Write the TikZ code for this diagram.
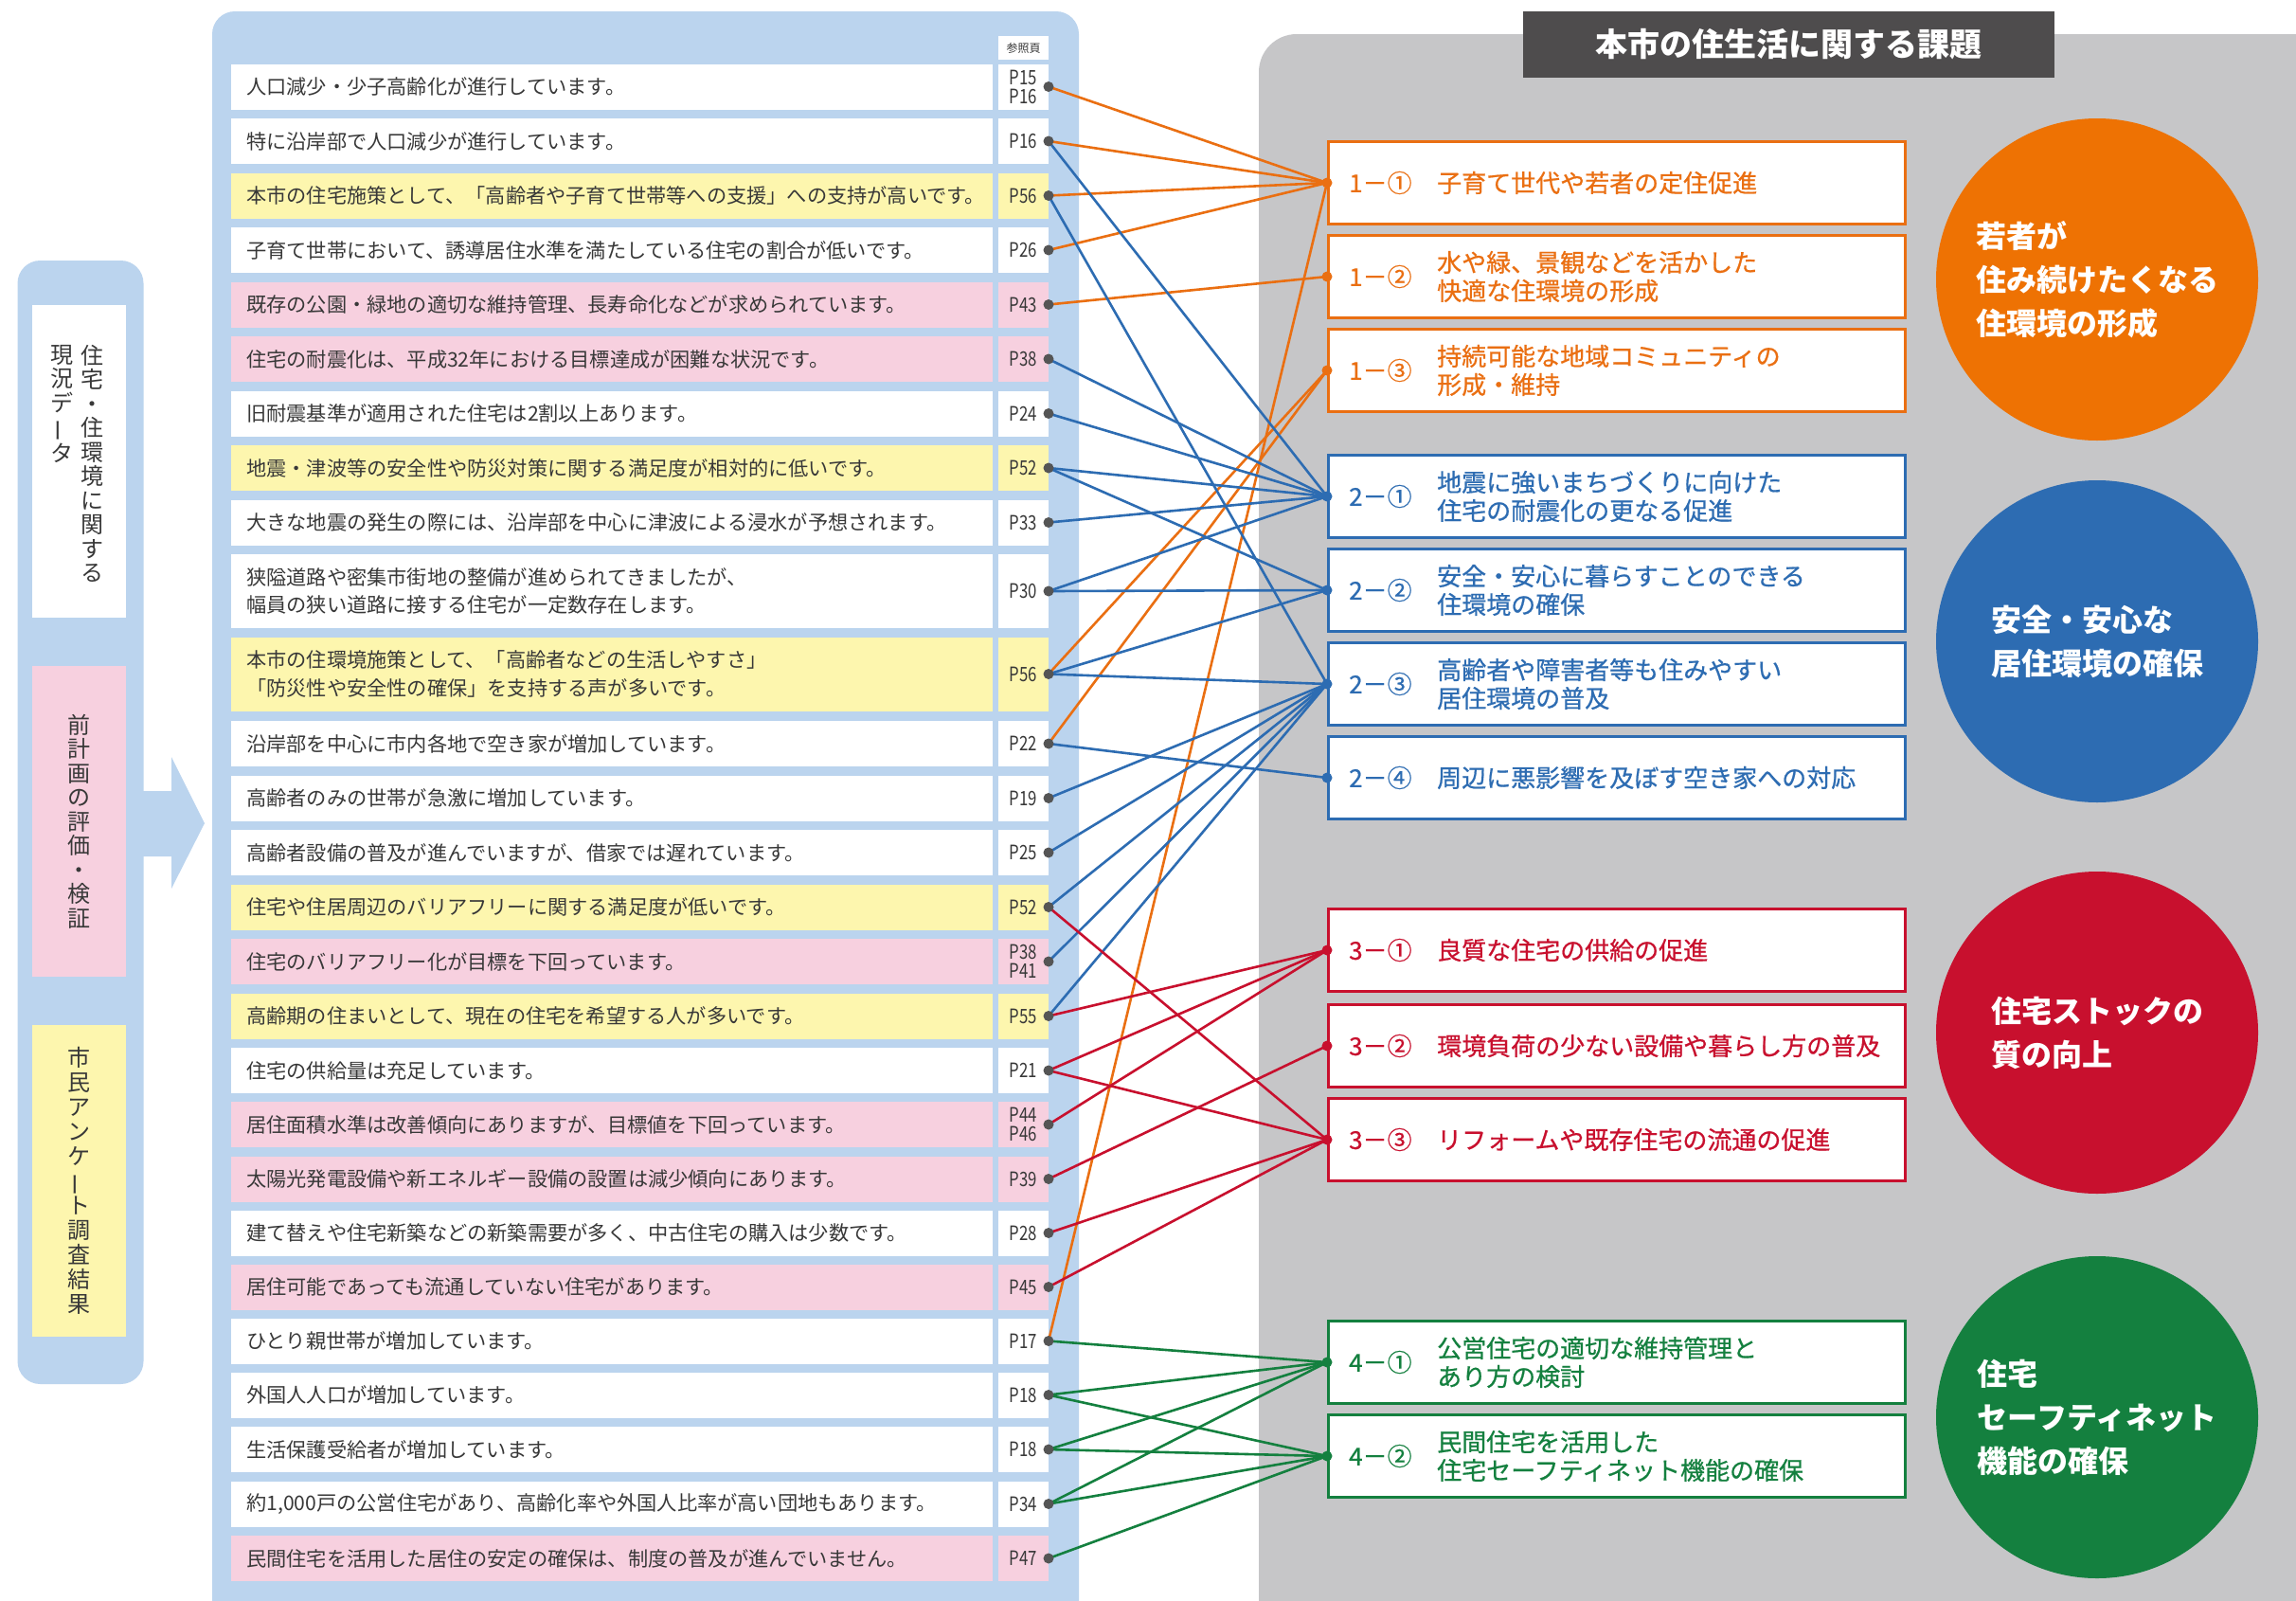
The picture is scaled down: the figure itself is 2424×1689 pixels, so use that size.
\documentclass[tikz,border=0pt]{standalone}
\usepackage{fontspec}
\usepackage{graphicx}
\setmainfont{Noto Sans CJK JP}
\newfontfamily\pgfont[FakeStretch=0.8]{Noto Sans CJK JP}
\newfontfamily\medfont[FakeBold=0.7]{Noto Sans CJK JP}
\definecolor{panelblue}{HTML}{BBD4EE}
\definecolor{rowyellow}{HTML}{FDF6AE}
\definecolor{rowpink}{HTML}{F7D0DF}
\definecolor{graybg}{HTML}{C6C6C8}
\definecolor{titlegray}{HTML}{4E4C4D}
\definecolor{corange}{HTML}{EA6F12}
\definecolor{cblue}{HTML}{2D6CB2}
\definecolor{cred}{HTML}{C8102E}
\definecolor{cgreen}{HTML}{14803F}
\definecolor{circorange}{HTML}{EE7203}
\definecolor{txt}{HTML}{383838}
\definecolor{dotgray}{HTML}{555555}
\newcommand\fsz[2]{\fontsize{#1}{#2}\selectfont}
\newcommand\vbar{\rotatebox[origin=c]{90}{ー}}
\tikzset{
  rowbox/.style={anchor=west, text width=772pt, inner xsep=16pt, inner ysep=0pt, align=left, font=\fsz{21.2}{29.5}, text=txt},
  pgbox/.style={anchor=east, minimum width=53pt, inner sep=0pt, align=center, font=\pgfont\fsz{21}{20}, text=txt},
  sdot/.style={circle, fill=dotgray, minimum size=11pt, inner sep=0pt},
  issuebox/.style={anchor=west, minimum width=609pt, minimum height=87pt, fill=white, line width=3pt, inner sep=0pt},
  issuelbl/.style={anchor=west, inner sep=0pt, font=\medfont\fsz{26}{30}},
  issuetxt/.style={anchor=west, inner sep=0pt, align=left, font=\medfont\fsz{26}{30}},
  bigcirc/.style={circle, minimum size=340pt, inner sep=0pt, text=white, align=left, font=\bfseries\fsz{32}{46}},
  vlbl/.style={inner sep=0pt, align=center, font=\fsz{24}{25.5}, text=txt},
  lo/.style={draw=corange, line width=2.6pt},
  lb/.style={draw=cblue, line width=2.6pt},
  lr/.style={draw=cred, line width=2.6pt},
  lg/.style={draw=cgreen, line width=2.6pt},
}
\newcommand\mkrow[6]{%
  \node[rowbox, minimum height=#3, fill=#4] (r#1) at (244,#2) {#5};%
  \node[pgbox, minimum height=#3, fill=#4] (p#1) at (1107,#2) {#6};%
  \coordinate (d#1) at (1107,#2);%
}
\newcommand\mkissue[5]{%
  \node[issuebox, draw=#3] (b#1) at (1401,#2) {};%
  \node[issuelbl, text=#3] (bl#1) at (1424,#2) {#4};%
  \node[issuetxt, text=#3] (bt#1) at (1517,#2) {#5};%
  \coordinate (t#1) at (1401,#2);%
}
\begin{document}
\begin{tikzpicture}[x=1pt,y=-1pt]
\useasboundingbox (0,0) rectangle (2424,1689);
\clip (0,0) rectangle (2424,1689);
\fill[white] (0,0) rectangle (2424,1689);
% right gray panel
\fill[graybg, rounded corners=40pt] (1329,36) rectangle (2500,1760);
\node[minimum width=561pt, minimum height=70pt, fill=titlegray, text=white, inner sep=0pt, font=\bfseries\fsz{34}{40}] (title) at (1888.5,47) {本市の住生活に関する課題};
% main light-blue panel
\fill[panelblue, rounded corners=24pt] (224,12) rectangle (1139,1720);
% left source panel
\fill[panelblue, rounded corners=24pt] (18.5,275) rectangle (151.5,1461);
\fill[panelblue] (151,835) -- (181,835) -- (181,799) -- (216,869) -- (181,938) -- (181,904) -- (151,904) -- cycle;
\fill[white] (34,322) rectangle (133,652);
\fill[rowpink] (34,703) rectangle (133,1031);
\fill[rowyellow] (34,1082) rectangle (133,1411);
\node[vlbl, anchor=north] (v1a) at (97,364) {住\\宅\\・\\住\\環\\境\\に\\関\\す\\る};
\node[vlbl, anchor=north] (v1b) at (65,364) {現\\況\\デ\\\vbar\\タ};
\node[vlbl] (v2) at (83.5,867) {前\\計\\画\\の\\評\\価\\・\\検\\証};
\node[vlbl, font=\fsz{24}{26}] (v3) at (83.5,1246) {市\\民\\ア\\ン\\ケ\\\vbar\\ト\\調\\査\\結\\果};
% header
\node[fill=white, minimum width=53pt, minimum height=25pt, inner sep=0pt, font=\fsz{12}{13}, text=txt] (hdr) at (1080.5,50.5) {参照頁};
% rows
\mkrow{1}{91.5}{48}{white}{人口減少・少子高齢化が進行しています。}{P15\\P16}
\mkrow{2}{149}{48}{white}{特に沿岸部で人口減少が進行しています。}{P16}
\mkrow{3}{206.5}{48}{rowyellow}{本市の住宅施策として、「高齢者や子育て世帯等への支援」への支持が高いです。}{P56}
\mkrow{4}{264}{48}{white}{子育て世帯において、誘導居住水準を満たしている住宅の割合が低いです。}{P26}
\mkrow{5}{321.5}{48}{rowpink}{既存の公園・緑地の適切な維持管理、長寿命化などが求められています。}{P43}
\mkrow{6}{379}{48}{rowpink}{住宅の耐震化は、平成32年における目標達成が困難な状況です。}{P38}
\mkrow{7}{436.5}{48}{white}{旧耐震基準が適用された住宅は2割以上あります。}{P24}
\mkrow{8}{494}{48}{rowyellow}{地震・津波等の安全性や防災対策に関する満足度が相対的に低いです。}{P52}
\mkrow{9}{551.5}{48}{white}{大きな地震の発生の際には、沿岸部を中心に津波による浸水が予想されます。}{P33}
\mkrow{10}{624}{78}{white}{狭隘道路や密集市街地の整備が進められてきましたが、\\幅員の狭い道路に接する住宅が一定数存在します。}{P30}
\mkrow{11}{711.5}{78}{rowyellow}{本市の住環境施策として、「高齢者などの生活しやすさ」\\「防災性や安全性の確保」を支持する声が多いです。}{P56}
\mkrow{12}{785}{48}{white}{沿岸部を中心に市内各地で空き家が増加しています。}{P22}
\mkrow{13}{842.5}{48}{white}{高齢者のみの世帯が急激に増加しています。}{P19}
\mkrow{14}{900}{48}{white}{高齢者設備の普及が進んでいますが、借家では遅れています。}{P25}
\mkrow{15}{957.5}{48}{rowyellow}{住宅や住居周辺のバリアフリーに関する満足度が低いです。}{P52}
\mkrow{16}{1015}{48}{rowpink}{住宅のバリアフリー化が目標を下回っています。}{P38\\P41}
\mkrow{17}{1072.5}{48}{rowyellow}{高齢期の住まいとして、現在の住宅を希望する人が多いです。}{P55}
\mkrow{18}{1130}{48}{white}{住宅の供給量は充足しています。}{P21}
\mkrow{19}{1187}{48}{rowpink}{居住面積水準は改善傾向にありますが、目標値を下回っています。}{P44\\P46}
\mkrow{20}{1244.5}{48}{rowpink}{太陽光発電設備や新エネルギー設備の設置は減少傾向にあります。}{P39}
\mkrow{21}{1301.5}{48}{white}{建て替えや住宅新築などの新築需要が多く、中古住宅の購入は少数です。}{P28}
\mkrow{22}{1358.5}{48}{rowpink}{居住可能であっても流通していない住宅があります。}{P45}
\mkrow{23}{1415.5}{48}{white}{ひとり親世帯が増加しています。}{P17}
\mkrow{24}{1472.5}{48}{white}{外国人人口が増加しています。}{P18}
\mkrow{25}{1530}{48}{white}{生活保護受給者が増加しています。}{P18}
\mkrow{26}{1587.5}{48}{white}{約1,000戸の公営住宅があり、高齢化率や外国人比率が高い団地もあります。}{P34}
\mkrow{27}{1645}{48}{rowpink}{民間住宅を活用した居住の安定の確保は、制度の普及が進んでいません。}{P47}
% issue boxes
\mkissue{11}{193}{corange}{1－①}{子育て世代や若者の定住促進}
\mkissue{12}{292}{corange}{1－②}{水や緑、景観などを活かした\\快適な住環境の形成}
\mkissue{13}{391}{corange}{1－③}{持続可能な地域コミュニティの\\形成・維持}
\mkissue{21}{524}{cblue}{2－①}{地震に強いまちづくりに向けた\\住宅の耐震化の更なる促進}
\mkissue{22}{623}{cblue}{2－②}{安全・安心に暮らすことのできる\\住環境の確保}
\mkissue{23}{722}{cblue}{2－③}{高齢者や障害者等も住みやすい\\居住環境の普及}
\mkissue{24}{821}{cblue}{2－④}{周辺に悪影響を及ぼす空き家への対応}
\mkissue{31}{1003}{cred}{3－①}{良質な住宅の供給の促進}
\mkissue{32}{1104}{cred}{3－②}{環境負荷の少ない設備や暮らし方の普及}
\mkissue{33}{1203}{cred}{3－③}{リフォームや既存住宅の流通の促進}
\mkissue{41}{1438}{cgreen}{4－①}{公営住宅の適切な維持管理と\\あり方の検討}
\mkissue{42}{1537}{cgreen}{4－②}{民間住宅を活用した\\住宅セーフティネット機能の確保}
% circles
\node[bigcirc, fill=circorange] (c1) at (2214,295) {若者が\\住み続けたくなる\\住環境の形成};
\node[bigcirc, fill=cblue] (c2) at (2214,677) {安全・安心な\\居住環境の確保};
\node[bigcirc, fill=cred] (c3) at (2214,1090) {住宅ストックの\\質の向上};
\node[bigcirc, fill=cgreen] (c4) at (2214,1496) {住宅\\セーフティネット\\機能の確保};
% connectors
\draw[lo] (d1) -- (t11);
\draw[lo] (d2) -- (t11);
\draw[lo] (d3) -- (t11);
\draw[lo] (d4) -- (t11);
\draw[lo] (d5) -- (t12);
\draw[lo] (d11) -- (t13);
\draw[lo] (d12) -- (t13);
\draw[lo] (d23) -- (t11);
\draw[lb] (d2) -- (t21);
\draw[lb] (d3) -- (t23);
\draw[lb] (d6) -- (t21);
\draw[lb] (d7) -- (t21);
\draw[lb] (d8) -- (t21);
\draw[lb] (d8) -- (t22);
\draw[lb] (d9) -- (t21);
\draw[lb] (d10) -- (t21);
\draw[lb] (d10) -- (t22);
\draw[lb] (d11) -- (t22);
\draw[lb] (d11) -- (t23);
\draw[lb] (d12) -- (t24);
\draw[lb] (d13) -- (t23);
\draw[lb] (d14) -- (t23);
\draw[lb] (d15) -- (t23);
\draw[lb] (d16) -- (t23);
\draw[lb] (d17) -- (t23);
\draw[lr] (d15) -- (t33);
\draw[lr] (d17) -- (t31);
\draw[lr] (d18) -- (t31);
\draw[lr] (d18) -- (t33);
\draw[lr] (d19) -- (t31);
\draw[lr] (d20) -- (t32);
\draw[lr] (d21) -- (t33);
\draw[lr] (d22) -- (t33);
\draw[lg] (d23) -- (t41);
\draw[lg] (d24) -- (t41);
\draw[lg] (d24) -- (t42);
\draw[lg] (d25) -- (t41);
\draw[lg] (d25) -- (t42);
\draw[lg] (d26) -- (t41);
\draw[lg] (d26) -- (t42);
\draw[lg] (d27) -- (t42);
% dots
\foreach \i in {1,...,27} {\node[sdot] (sd\i) at (d\i) {};}
\foreach \i/\c in {11/corange,12/corange,13/corange,21/cblue,22/cblue,23/cblue,24/cblue,31/cred,32/cred,33/cred,41/cgreen,42/cgreen} {\node[sdot, fill=\c] (td\i) at (t\i) {};}
\end{tikzpicture}
\end{document}
